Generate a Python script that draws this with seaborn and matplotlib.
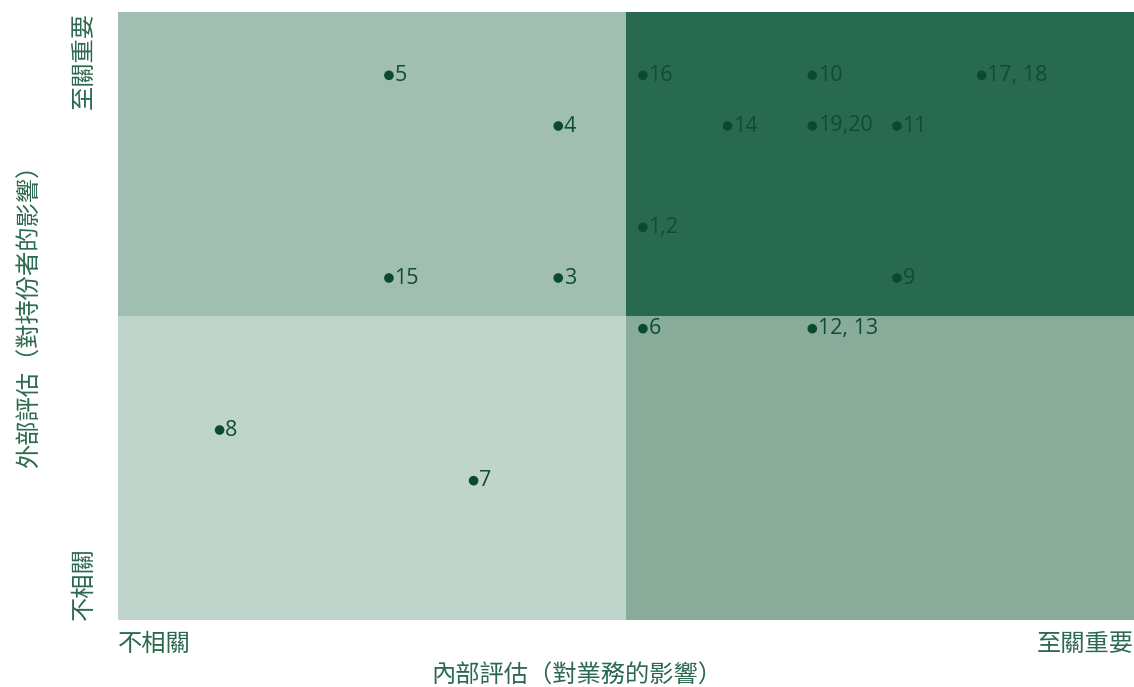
import pandas as pd
import numpy as np
import matplotlib.pyplot as plt
import seaborn as sns

# Materiality matrix data (internal = x, external = y, 0-12 scale)
labels = ["5", "16", "10", "17, 18", "4", "14", "19,20", "11",
          "1,2", "15", "3", "9", "6", "12, 13", "8", "7"]
internal = [3.2, 6.2, 8.2, 10.2, 5.2, 7.2, 8.2, 9.2,
            6.2, 3.2, 5.2, 9.2, 6.2, 8.2, 1.2, 4.2]
external = [10.75, 10.75, 10.75, 10.75, 9.75, 9.75, 9.75, 9.75,
            7.75, 6.75, 6.75, 6.75, 5.75, 5.75, 3.75, 2.75]

x_ticklabels = ["不相關", "至關重要"]
y_ticklabels = ["不相關", "至關重要"]
x_title = "內部評估（對業務的影響）"
y_title = "外部評估（對持份者的影響）"

df = pd.DataFrame({"label": labels, "internal": internal, "external": external})

sns.set_theme(style="white")
plt.rcParams["font.family"] = ["Noto Sans CJK TC", "DejaVu Sans"]

text_color = "#2c6a4f"
dot_color = "#0c4a2f"

fig, ax = plt.subplots(figsize=(11.34, 6.87), dpi=100)
fig.subplots_adjust(left=118 / 1134, right=1.0, top=1 - 12 / 687, bottom=1 - 620 / 687)

# Quadrant backgrounds
ax.fill_between([0, 6], 6, 12, color="#a0bfb2", lw=0)
ax.fill_between([6, 12], 6, 12, color="#286a50", lw=0)
ax.fill_between([0, 6], 0, 6, color="#bfd4cb", lw=0)
ax.fill_between([6, 12], 0, 6, color="#88ab9a", lw=0)

sns.scatterplot(data=df, x="internal", y="external", color=dot_color,
                s=48, edgecolor="none", ax=ax, zorder=3)

for _, row in df.iterrows():
    ax.annotate(row["label"], (row["internal"], row["external"]),
                xytext=(4, 0), textcoords="offset points",
                ha="left", va="center", fontsize=15.5, color="#0f4d33",
                family=["Open Sans", "DejaVu Sans"], zorder=4)

ax.set_xlim(0, 12)
ax.set_ylim(0, 12)
for s in ax.spines.values():
    s.set_visible(False)

ax.set_xticks([0, 12], x_ticklabels, fontsize=17.5, color=text_color, fontweight="light")
ax.set_yticks([0, 12], y_ticklabels, fontsize=17.5, color=text_color, fontweight="light",
              rotation=90)
ax.tick_params(axis="x", length=0, pad=8)
ax.tick_params(axis="y", length=0, pad=15)
xl = ax.get_xticklabels()
xl[0].set_ha("left")
xl[1].set_ha("right")
yl = ax.get_yticklabels()
yl[0].set_va("bottom")
yl[1].set_va("top")

ax.set_xlabel("")
ax.set_ylabel("")
fig.text(577 / 1134, 1 - 676 / 687, x_title, ha="center", va="center",
         fontsize=17.5, color=text_color, fontweight="light")
fig.text(30 / 1134, 1 - 310 / 687, y_title, ha="center", va="center",
         rotation=90, fontsize=17.5, color=text_color, fontweight="light")

fig.savefig("out.png", dpi=100)
